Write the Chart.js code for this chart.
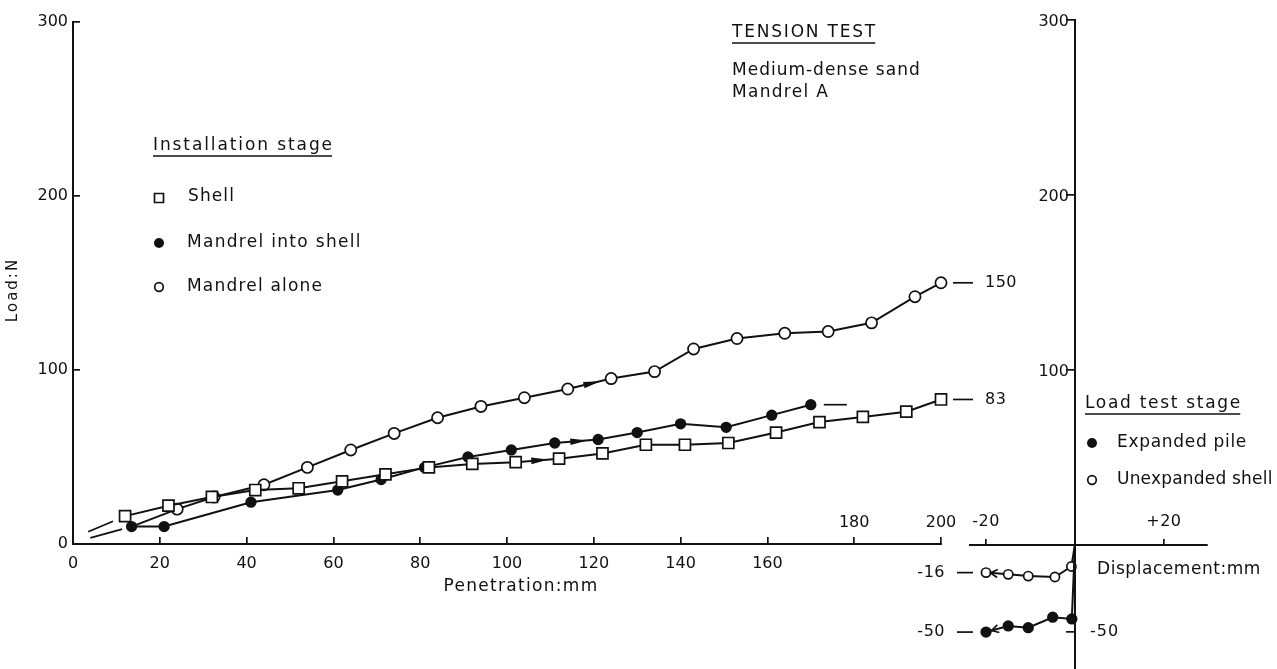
<!DOCTYPE html>
<html>
<head>
<meta charset="utf-8">
<title>Tension test - medium-dense sand, mandrel A</title>
<script src="https://cdn.jsdelivr.net/npm/chart.js@4.4.1/dist/chart.umd.min.js"></script>
<style>
  html, body { margin: 0; padding: 0; background: #fff; }
  #sheet { position: relative; width: 1277px; height: 669px; overflow: hidden; }
  #sheet canvas { position: absolute; left: 0; top: 0; }
</style>
</head>
<body>
<div id="sheet">
  <canvas id="install" width="1277" height="669"></canvas>
  <!-- taller than the sheet so the load axis runs off the bottom edge -->
  <canvas id="loadtest" width="1277" height="676"></canvas>
</div>
<script>
// installation stage: penetration (mm) against load (N)
const shellPen = [12, 22, 32, 42, 52, 62, 72, 82, 92, 102, 112, 122, 132, 141, 151, 162, 172, 182, 192, 200];
const shellLoad = [16, 22, 27, 31, 32, 36, 40, 44, 46, 47, 49, 52, 57, 57, 58, 64, 70, 73, 76, 83];
const intoShellPen = [13.5, 21, 41, 61, 71, 81, 91, 101, 111, 121, 130, 140, 150.5, 161, 170];
const intoShellLoad = [10, 10, 24, 31, 37, 44, 50, 54, 58, 60, 64, 69, 67, 74, 80];
const alonePen = [13.5, 24, 32.5, 44, 54, 64, 74, 84, 94, 104, 114, 124, 134, 143, 153, 164, 174, 184, 194, 200];
const aloneLoad = [10, 20, 27, 34, 44, 54, 63.5, 72.5, 79, 84, 89, 95, 99, 112, 118, 121, 122, 127, 142, 150];
// dashed lead-in towards the origin: [penetration, load]
const shellLeadStart = [3.5, 7];
const intoShellLeadStart = [4, 3.5];

// load test stage: displacement (mm) against load (N)
const expandedDisp = [0, -0.7, -5, -10.5, -15, -20];
const expandedLoad = [0, -42.5, -41.5, -47.5, -46.5, -50];
const unexpandedDisp = [0, -0.8, -4.5, -10.5, -15, -20];
const unexpandedLoad = [0, -12.5, -18.5, -18, -17, -16];

const penTicks = [0, 20, 40, 60, 80, 100, 120, 140, 160, 180, 200];
const penTicksAbove = [180, 200];
const loadTicks = [0, 100, 200, 300];
const loadTicksRight = [300, 200, 100, -50];
const dispTicks = [-20, 20];

const INK = '#111';
const FONT = "'DejaVu Sans', sans-serif";
Chart.defaults.font.family = FONT;
Chart.defaults.color = INK;

const pts = (xs, ys) => xs.map((x, i) => ({ x, y: ys[i] }));
const fixedTicks = list => scale => { scale.ticks = list.map(value => ({ value })); };

function series(label, data, style, radius, fill, hideFirst) {
  return {
    label, data,
    borderColor: INK, borderWidth: 2, tension: 0, clip: false,
    pointStyle: style,
    pointRadius: data.map((_, i) => (hideFirst && i === 0 ? 0 : radius)),
    pointBackgroundColor: fill, pointBorderColor: INK, pointBorderWidth: 1.7
  };
}

function lead(start, end, dash) {
  return {
    label: '', data: [{ x: start[0], y: start[1] }, end],
    borderColor: INK, borderWidth: 1.7, borderDash: dash, pointRadius: 0, clip: false
  };
}

function label(ctx, str, x, y, opt = {}) {
  ctx.font = `${opt.size || 17}px ${FONT}`;
  ctx.letterSpacing = (opt.spacing || 0) + 'px';
  ctx.textAlign = opt.align || 'left';
  ctx.textBaseline = 'middle';
  ctx.fillText(str, x, y);
  if (opt.underline) {
    const w = ctx.measureText(str).width - (opt.spacing || 0);
    ctx.lineWidth = 1.6;
    ctx.beginPath();
    ctx.moveTo(x, y + opt.underline);
    ctx.lineTo(x + w, y + opt.underline);
    ctx.stroke();
  }
  ctx.letterSpacing = '0px';
}

function marker(ctx, kind, x, y) {
  ctx.lineWidth = 1.7;
  ctx.beginPath();
  if (kind === 'square') ctx.rect(x - 4.5, y - 4.5, 9, 9);
  else ctx.arc(x, y, kind === 'dot' ? 5 : 4.3, 0, Math.PI * 2);
  if (kind === 'dot') ctx.fill(); else ctx.stroke();
}

function line(ctx, x1, y1, x2, y2, w = 1.7) {
  ctx.lineWidth = w;
  ctx.beginPath();
  ctx.moveTo(x1, y1);
  ctx.lineTo(x2, y2);
  ctx.stroke();
}

// arrowhead on the segment i -> i+1 of a dataset, tip at fraction t
function arrow(chart, di, i, t, len, hw, solid) {
  const { ctx } = chart;
  const els = chart.getDatasetMeta(di).data;
  const a = els[i], b = els[i + 1];
  const dx = b.x - a.x, dy = b.y - a.y, d = Math.hypot(dx, dy);
  const ux = dx / d, uy = dy / d;
  const tx = a.x + dx * t, ty = a.y + dy * t;
  const bx = tx - ux * len, by = ty - uy * len;
  ctx.lineWidth = 1.7;
  ctx.beginPath();
  ctx.moveTo(bx - uy * hw, by + ux * hw);
  ctx.lineTo(tx, ty);
  ctx.lineTo(bx + uy * hw, by - ux * hw);
  if (solid) { ctx.closePath(); ctx.fill(); } else ctx.stroke();
}

const installNotes = {
  id: 'installNotes',
  afterDraw(chart) {
    const { ctx, scales: { x, y } } = chart;
    ctx.save();
    ctx.fillStyle = INK;
    ctx.strokeStyle = INK;

    label(ctx, 'TENSION TEST', 732, 33, { spacing: 1.8, underline: 10 });
    label(ctx, 'Medium-dense sand', 732, 71, { spacing: 1 });
    label(ctx, 'Mandrel A', 732, 93, { spacing: 1.3 });

    label(ctx, 'Installation stage', 153, 146, { spacing: 1.9, underline: 10 });
    marker(ctx, 'square', 159, 198);
    label(ctx, 'Shell', 188, 197, { spacing: 1.1 });
    marker(ctx, 'dot', 159, 243);
    label(ctx, 'Mandrel into shell', 187, 243, { spacing: 1.3 });
    marker(ctx, 'ring', 159, 287);
    label(ctx, 'Mandrel alone', 187, 287, { spacing: 1.2 });

    label(ctx, 'Penetration:mm', 521, 587, { spacing: 1.3, align: 'center' });
    ctx.save();
    ctx.translate(13, 290);
    ctx.rotate(-Math.PI / 2);
    label(ctx, 'Load:N', 0, 0, { size: 15, spacing: 2, align: 'center' });
    ctx.restore();

    const base = y.getPixelForValue(0);
    penTicksAbove.forEach(v => label(ctx, String(v), x.getPixelForValue(v), base - 21, { size: 16, align: 'center' }));

    // closing values at the end of the shell and mandrel-alone curves
    [[shellPen, shellLoad], [alonePen, aloneLoad]].forEach(([xs, ys]) => {
      const n = xs.length - 1;
      const px = x.getPixelForValue(xs[n]), py = y.getPixelForValue(ys[n]);
      line(ctx, px + 12, py, px + 32, py);
      label(ctx, String(ys[n]), px + 44, py, { size: 16, spacing: 0.5 });
    });
    const m = intoShellPen.length - 1;
    const qx = x.getPixelForValue(intoShellPen[m]), qy = y.getPixelForValue(intoShellLoad[m]);
    line(ctx, qx + 13, qy, qx + 36, qy);

    arrow(chart, 0, 9, 0.75, 17, 3.3, true);
    arrow(chart, 1, 8, 0.75, 17, 3.3, true);
    arrow(chart, 2, 10, 0.75, 17, 3.3, true);
    ctx.restore();
  }
};

const loadNotes = {
  id: 'loadNotes',
  afterDraw(chart) {
    const { ctx, scales: { x, y } } = chart;
    ctx.save();
    ctx.fillStyle = INK;
    ctx.strokeStyle = INK;
    const axisX = x.getPixelForValue(0), axisY = y.getPixelForValue(0);

    loadTicksRight.forEach(v => {
      const py = y.getPixelForValue(v);
      if (v > 0) label(ctx, String(v), axisX - 6, py + 2, { size: 16, align: 'right' });
      else label(ctx, String(v), axisX + 15, py, { size: 16, spacing: 1 });
    });
    dispTicks.forEach(v => {
      label(ctx, (v > 0 ? '+' : '') + v, x.getPixelForValue(v), axisY - 23, { size: 16, align: 'center', spacing: 0.5 });
    });
    label(ctx, 'Displacement:mm', 1097, 570, { spacing: 0.55 });

    label(ctx, 'Load test stage', 1085, 404, { spacing: 1.7, underline: 10 });
    marker(ctx, 'dot', 1092, 443);
    label(ctx, 'Expanded pile', 1117, 443, { spacing: 0.7 });
    marker(ctx, 'ring', 1092, 480);
    label(ctx, 'Unexpanded shell', 1117, 480, { spacing: 0.2 });

    // final loads to the left of each curve
    [[expandedDisp, expandedLoad], [unexpandedDisp, unexpandedLoad]].forEach(([xs, ys]) => {
      const n = xs.length - 1;
      const px = x.getPixelForValue(xs[n]), py = y.getPixelForValue(ys[n]);
      line(ctx, px - 29, py, px - 13, py);
      label(ctx, String(ys[n]), px - 41, py, { size: 16, align: 'right', spacing: 0.5 });
    });

    arrow(chart, 0, 4, 0.75, 7, 4, false);
    arrow(chart, 1, 4, 0.8, 7, 4, false);
    ctx.restore();
  }
};

const axisLine = { color: INK, width: 2 };
const quiet = { legend: { display: false }, tooltip: { enabled: false } };

new Chart(document.getElementById('install'), {
  type: 'line',
  data: {
    datasets: [
      series('Shell', pts(shellPen, shellLoad), 'rect', 7.8, '#fff'),
      series('Mandrel into shell', pts(intoShellPen, intoShellLoad), 'circle', 4.8, INK),
      series('Mandrel alone', pts(alonePen, aloneLoad), 'circle', 5.6, '#fff', true),
      lead(shellLeadStart, { x: shellPen[0], y: shellLoad[0] }, [27, 40]),
      lead(intoShellLeadStart, { x: intoShellPen[0], y: intoShellLoad[0] }, [33, 40])
    ]
  },
  options: {
    responsive: false, animation: false, devicePixelRatio: 1,
    layout: { padding: { left: 0, right: 336, top: 21, bottom: 0 } },
    plugins: quiet,
    scales: {
      x: {
        type: 'linear', min: 0, max: 200,
        afterBuildTicks: fixedTicks(penTicks),
        afterFit: s => { s.height = 125; },
        border: axisLine,
        grid: { drawOnChartArea: false, tickLength: -7, color: INK, lineWidth: 1.7 },
        ticks: {
          padding: 17, autoSkip: false, maxRotation: 0, color: INK,
          font: { size: 16 },
          callback: v => (penTicksAbove.includes(v) ? '' : v)
        }
      },
      y: {
        type: 'linear', min: 0, max: 300,
        afterBuildTicks: fixedTicks(loadTicks),
        afterFit: s => { s.width = 73; },
        border: axisLine,
        grid: { drawOnChartArea: false, tickLength: -7, color: INK, lineWidth: 1.7 },
        ticks: { padding: 12, color: INK, font: { size: 16 } }
      }
    }
  },
  plugins: [installNotes]
});

new Chart(document.getElementById('loadtest'), {
  type: 'line',
  data: {
    datasets: [
      series('Expanded pile', pts(expandedDisp, expandedLoad), 'circle', 4.8, INK, true),
      series('Unexpanded shell', pts(unexpandedDisp, unexpandedLoad), 'circle', 4.6, '#fff', true)
    ]
  },
  options: {
    responsive: false, animation: false, devicePixelRatio: 1,
    layout: { padding: { left: 970, right: 70, top: 20, bottom: 0 } },
    plugins: quiet,
    scales: {
      x: {
        type: 'linear', min: -23.6, max: 29.7, position: { y: 0 },
        afterBuildTicks: fixedTicks(dispTicks),
        border: axisLine,
        grid: { drawOnChartArea: false, tickLength: -7, color: INK, lineWidth: 1.7 },
        ticks: { display: false }
      },
      y: {
        type: 'linear', min: -71.4, max: 300, position: { x: 0 },
        afterBuildTicks: fixedTicks(loadTicksRight),
        border: axisLine,
        grid: { drawOnChartArea: false, tickLength: 8, color: INK, lineWidth: 1.7 },
        ticks: { display: false }
      }
    }
  },
  plugins: [loadNotes]
});
</script>
</body>
</html>
